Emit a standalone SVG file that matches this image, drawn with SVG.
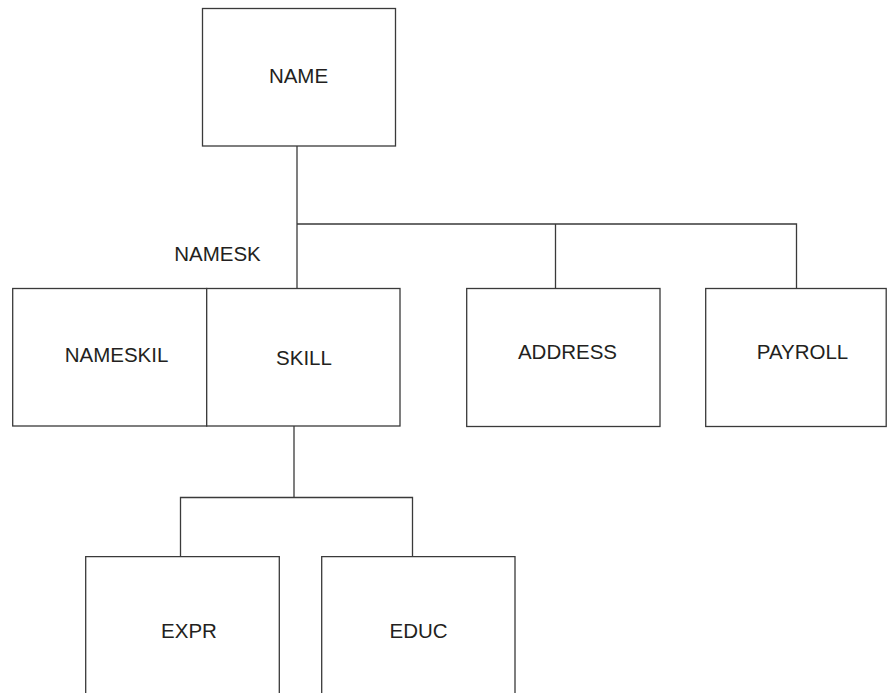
<svg xmlns="http://www.w3.org/2000/svg" width="887" height="693" viewBox="0 0 887 693">
<style>
.box{fill:#fff;stroke:#3a3a3a;stroke-width:1.3}
.ln{fill:none;stroke:#3a3a3a;stroke-width:1.3}
.t{font-family:"Liberation Sans",Arial,sans-serif;font-size:20.5px;fill:#231f20;text-anchor:middle}
</style>
<rect width="887" height="693" fill="#fff"/>
<g id="connectors">
<path class="ln" d="M297 146 V288"/>
<path class="ln" d="M297 224 H796.5 V288"/>
<path class="ln" d="M555.5 224 V288"/>
<path class="ln" d="M294 426 V497.5"/>
<path class="ln" d="M180.5 556.5 V497.5 H412.5 V556.5"/>
</g>
<g id="name">
<rect class="box" x="202.5" y="8.5" width="193" height="137.5"/>
<text class="t" x="298.5" y="83">NAME</text>
</g>
<g id="namesk-label">
<text class="t" x="217.5" y="261">NAMESK</text>
</g>
<g id="nameskil">
<rect class="box" x="12.7" y="288.5" width="194" height="137.5"/>
<text class="t" x="116.5" y="362">NAMESKIL</text>
</g>
<g id="skill">
<rect class="box" x="206.7" y="288.5" width="193.3" height="137.5"/>
<text class="t" x="304" y="365">SKILL</text>
</g>
<g id="address">
<rect class="box" x="466.7" y="288.5" width="193.3" height="138"/>
<text class="t" x="567.5" y="359">ADDRESS</text>
</g>
<g id="payroll">
<rect class="box" x="705.7" y="288.5" width="180.5" height="138"/>
<text class="t" x="802.5" y="359">PAYROLL</text>
</g>
<g id="expr">
<path class="box" d="M85.7 700 V556.7 H279.3 V700"/>
<text class="t" x="189" y="637.5">EXPR</text>
</g>
<g id="educ">
<path class="box" d="M321.7 700 V556.7 H515 V700"/>
<text class="t" x="418.5" y="637.5">EDUC</text>
</g>
</svg>
